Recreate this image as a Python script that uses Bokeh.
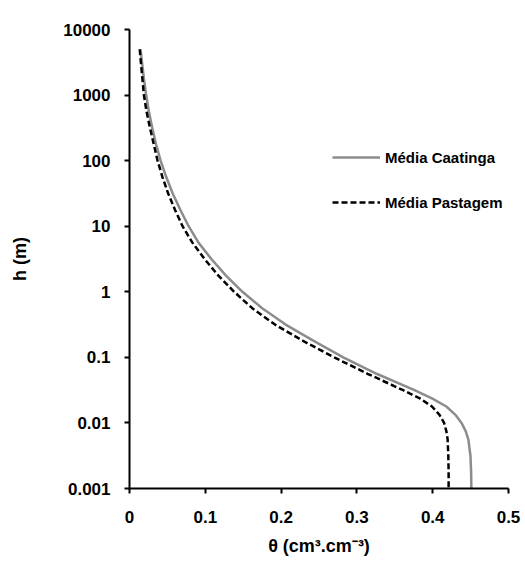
from bokeh.plotting import figure
from bokeh.models import Range1d, FixedTicker, CustomJSTickFormatter, Legend, LegendItem
from bokeh.embed import file_html
from bokeh.resources import INLINE

# Pressure head h (m), read on the log axis
h_m = [5000, 3160, 1780, 1000, 562, 316, 178, 100, 56.2, 31.6, 17.8, 10, 5.62,
       3.16, 1.78, 1, 0.562, 0.316, 0.178, 0.1, 0.0562, 0.0316, 0.0237, 0.0178,
       0.0133, 0.01, 0.0075, 0.00562, 0.00316, 0.00178, 0.001]

# Média Caatinga (gray, solid): water content theta (cm3/cm3)
caatinga_theta = [0.0145, 0.0165, 0.019, 0.022, 0.0255, 0.030, 0.035, 0.041, 0.0485,
                  0.057, 0.067, 0.078, 0.091, 0.108, 0.127, 0.149, 0.175, 0.206,
                  0.243, 0.282, 0.326, 0.376, 0.399, 0.418, 0.430, 0.438, 0.4435,
                  0.447, 0.4498, 0.4507, 0.451]

# Média Pastagem (black, dashed)
pastagem_theta = [0.0135, 0.015, 0.017, 0.019, 0.0225, 0.027, 0.032, 0.037, 0.0435,
                  0.051, 0.060, 0.070, 0.083, 0.099, 0.117, 0.138, 0.162, 0.192,
                  0.229, 0.270, 0.314, 0.361, 0.383, 0.399, 0.409, 0.415, 0.418,
                  0.4197, 0.4206, 0.421, 0.421]

x_ticks = [0, 0.1, 0.2, 0.3, 0.4, 0.5]
x_tick_labels = ["0", "0.1", "0.2", "0.3", "0.4", "0.5"]
y_ticks = [0.001, 0.01, 0.1, 1, 10, 100, 1000, 10000]
y_tick_labels = ["0.001", "0.01", "0.1", "1", "10", "100", "1000", "10000"]

series_names = ["Média Caatinga", "Média Pastagem"]

FONT = "Liberation Sans"

p = figure(width=522, height=562, output_backend="svg", toolbar_location=None,
           x_range=Range1d(0, 0.5), y_range=Range1d(0.001, 10000),
           y_axis_type="log",
           min_border_left=129, min_border_top=29, min_border_right=14,
           min_border_bottom=74)
p.outline_line_color = None
p.xgrid.visible = False
p.ygrid.visible = False
p.background_fill_color = "white"
p.border_fill_color = "white"

r1 = p.line(caatinga_theta, h_m, line_color="#8c8c8c", line_width=2.5)
r2 = p.line(pastagem_theta, h_m, line_color="black", line_width=2.5,
            line_dash="6 3")

fmt_code = """
let best = -1; let bd = 1e9;
for (let i = 0; i < tv.length; i++) {
  const d = Math.abs(tv[i] - tick);
  const rel = d / Math.max(Math.abs(tv[i]), 1e-12);
  const m = Math.min(d, rel);
  if (m < bd) { bd = m; best = i; }
}
if (best >= 0 && bd < 1e-6) return tl[best];
return '';
"""

p.xaxis.ticker = FixedTicker(ticks=x_ticks)
p.xaxis.formatter = CustomJSTickFormatter(args=dict(tv=x_ticks, tl=x_tick_labels), code=fmt_code)
p.yaxis.ticker = FixedTicker(ticks=y_ticks)
p.yaxis.formatter = CustomJSTickFormatter(args=dict(tv=y_ticks, tl=y_tick_labels), code=fmt_code)

for ax in (p.xaxis[0], p.yaxis[0]):
    ax.axis_line_color = "black"
    ax.axis_line_width = 2
    ax.major_tick_line_color = "black"
    ax.major_tick_line_width = 2
    ax.major_tick_out = 5
    ax.major_tick_in = 0
    ax.minor_tick_line_color = None
    ax.major_label_text_font = FONT
    ax.major_label_text_font_style = "bold"
    ax.major_label_text_font_size = "17px"
    ax.major_label_text_color = "black"
    ax.axis_label_text_font = FONT
    ax.axis_label_text_font_style = "bold"
    ax.axis_label_text_font_size = "18px"
    ax.axis_label_text_color = "black"

p.xaxis.axis_label = "θ (cm³.cm⁻³)"
p.xaxis.major_label_standoff = 17
p.xaxis.axis_label_standoff = 10
p.yaxis.axis_label = "h (m)"
p.yaxis.major_label_standoff = 14
p.yaxis.axis_label_standoff = 30

legend = Legend(items=[LegendItem(label=series_names[0], renderers=[r1]),
                       LegendItem(label=series_names[1], renderers=[r2])],
                location=(203, 276))
legend.border_line_color = None
legend.background_fill_alpha = 0
legend.padding = 0
legend.margin = 0
legend.spacing = 25
legend.glyph_width = 48
legend.glyph_height = 20
legend.label_height = 20
legend.label_standoff = 5
legend.label_text_font = FONT
legend.label_text_font_style = "bold"
legend.label_text_font_size = "15px"
legend.label_text_color = "black"
p.add_layout(legend)

open("out.html", "w").write(file_html(p, INLINE))
